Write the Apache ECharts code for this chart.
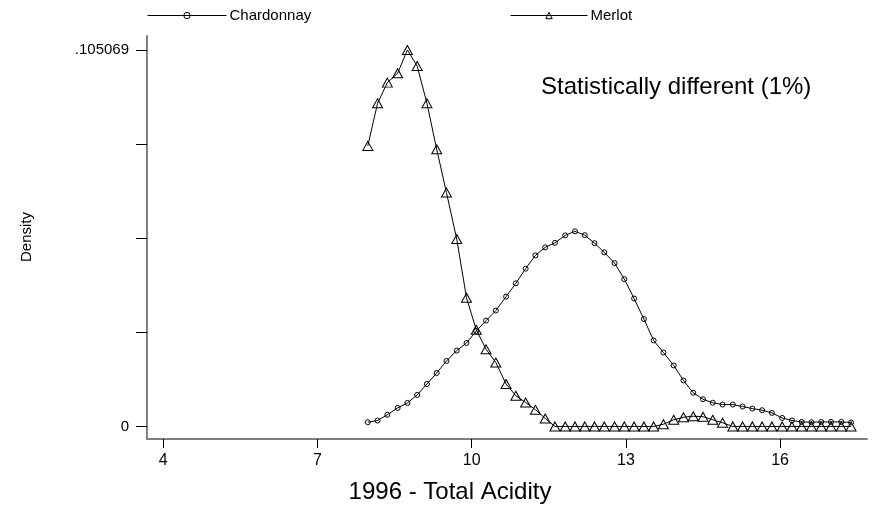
<!DOCTYPE html>
<html>
<head>
<meta charset="utf-8">
<script src="https://cdn.jsdelivr.net/npm/echarts@6/dist/echarts.min.js"></script>
<style>
  html, body { margin: 0; padding: 0; background: #fff; }
  #chart { width: 872px; height: 513px; }
</style>
</head>
<body>
<div id="chart"></div>
<script>
// Kernel density estimates of 1996 total acidity, evaluated on a common grid
const acidity = [7.98, 8.17, 8.36, 8.56, 8.75, 8.94, 9.13, 9.32, 9.51, 9.71,
  9.90, 10.09, 10.28, 10.47, 10.67, 10.86, 11.05, 11.24, 11.43, 11.62,
  11.82, 12.01, 12.20, 12.39, 12.58, 12.78, 12.97, 13.16, 13.35, 13.54,
  13.73, 13.93, 14.12, 14.31, 14.50, 14.69, 14.88, 15.08, 15.27, 15.46,
  15.65, 15.84, 16.04, 16.23, 16.42, 16.61, 16.80, 16.99, 17.19, 17.38];

const chardonnay = [0.00117, 0.00165, 0.00326, 0.00516, 0.00656, 0.00879, 0.01185, 0.01492, 0.01827, 0.02117,
  0.02329, 0.02664, 0.02954, 0.03233, 0.03623, 0.03994, 0.04404, 0.04775, 0.04998, 0.05124,
  0.05333, 0.05445, 0.05339, 0.05116, 0.04859, 0.04558, 0.04112, 0.03570, 0.02996, 0.02399,
  0.02064, 0.01702, 0.01283, 0.00940, 0.00759, 0.00661, 0.00611, 0.00611, 0.00555, 0.00499,
  0.00452, 0.00377, 0.00237, 0.00165, 0.00126, 0.00117, 0.00126, 0.00126, 0.00126, 0.00109];

const merlot = [0.07830, 0.09021, 0.09596, 0.09858, 0.105069, 0.10061, 0.09021, 0.07738, 0.06527, 0.05230,
  0.03590, 0.02697, 0.02153, 0.01785, 0.01183, 0.00856, 0.00669, 0.00466, 0.00223, 0,
  0, 0, 0, 0, 0, 0, 0, 0, 0, 0,
  0.00060, 0.00187, 0.00257, 0.00285, 0.00271, 0.00187, 0.00103, 0, 0, 0,
  0, 0, 0, 0, 0, 0, 0, 0, 0, 0];

const xTickValues = [4, 7, 10, 13, 16];
const yTickValues = [0, 0.02626725, 0.0525345, 0.07880175, 0.105069];
const yLabelValues = [0, 0.105069];
const yLabelText = ['0', '.105069'];

const pairs = (xs, ys) => xs.map((x, i) => [x, ys[i]]);

const FONT = '"Liberation Sans", Arial, sans-serif';
const hollow = { color: 'rgba(0,0,0,0)', borderColor: '#000', borderWidth: 1 };

const legendBase = {
  top: 8, padding: 0, itemHeight: 8, itemGap: 4,
  lineStyle: { width: 1, color: '#000' },
  itemStyle: hollow,
  textStyle: { fontFamily: FONT, fontSize: 15, color: '#000', padding: [0, 0, 0, -2] }
};

const chart = echarts.init(document.getElementById('chart'), null, { renderer: 'canvas' });

chart.setOption({
  animation: false,
  backgroundColor: '#fff',
  textStyle: { fontFamily: FONT, color: '#000' },
  grid: { left: 147, right: 5, top: 36, bottom: 74, containLabel: false },
  legend: [
    Object.assign({}, legendBase, { data: ['Chardonnay'], left: 147, itemWidth: 79 }),
    Object.assign({}, legendBase, { data: ['Merlot'], left: 510, itemWidth: 77 })
  ],
  xAxis: {
    type: 'value',
    min: 3.685,
    max: 17.69,
    axisLine: { show: true, onZero: false, lineStyle: { color: '#808080', width: 2 } },
    axisTick: { show: true, length: 9, customValues: xTickValues, lineStyle: { color: '#000', width: 1 } },
    axisLabel: { customValues: xTickValues, fontFamily: FONT, fontSize: 16, color: '#000', margin: 14 },
    splitLine: { show: false }
  },
  yAxis: {
    type: 'value',
    min: -0.00351,
    max: 0.10898,
    axisLine: { show: true, onZero: false, lineStyle: { color: '#808080', width: 2 } },
    axisTick: { show: true, length: 11, customValues: yTickValues, lineStyle: { color: '#000', width: 1 } },
    axisLabel: {
      customValues: yLabelValues,
      formatter: v => yLabelText[yLabelValues.indexOf(v)] ?? '',
      fontFamily: FONT, fontSize: 15, color: '#000', margin: 18
    },
    splitLine: { show: false }
  },
  graphic: [
    {
      type: 'text', left: 541, top: 75,
      style: { text: 'Statistically different (1%)', font: '24px ' + FONT, fill: '#000' }
    },
    {
      type: 'text', x: 450, y: 492,
      style: { text: '1996 - Total Acidity', font: '24px ' + FONT, fill: '#000', align: 'center', verticalAlign: 'middle' }
    },
    {
      type: 'text', x: 27, y: 237, rotation: Math.PI / 2,
      style: { text: 'Density', font: '15px ' + FONT, fill: '#000', align: 'center', verticalAlign: 'middle' }
    }
  ],
  series: [
    {
      name: 'Chardonnay',
      type: 'line',
      data: pairs(acidity, chardonnay),
      symbol: 'circle',
      symbolSize: 5,
      showSymbol: true,
      lineStyle: { color: '#000', width: 1 },
      itemStyle: hollow
    },
    {
      name: 'Merlot',
      type: 'line',
      data: pairs(acidity, merlot),
      symbol: 'triangle',
      symbolSize: [10, 9],
      showSymbol: true,
      lineStyle: { color: '#000', width: 1 },
      itemStyle: hollow
    }
  ]
});
</script>
</body>
</html>
